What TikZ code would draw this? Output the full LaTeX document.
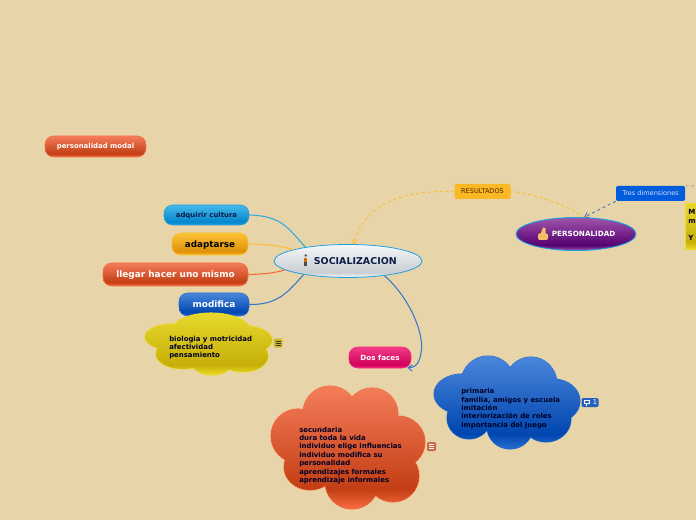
\documentclass[tikz,border=0pt]{standalone}
\usepackage{fontspec}
\setmainfont{DejaVu Sans}
\usetikzlibrary{
  arrows.meta,      % barbed arrow tips
  shapes.geometric  % ellipse nodes
}
\definecolor{papertan}{RGB}{231,212,168}
\definecolor{inknavy}{RGB}{12,28,70}
\definecolor{lineblue}{RGB}{58,120,205}
\definecolor{linesky}{RGB}{50,170,225}
\definecolor{lineamber}{RGB}{250,190,50}
\definecolor{lineorange}{RGB}{245,105,60}
\definecolor{skyrim}{RGB}{30,160,225}
\definecolor{amberrim}{RGB}{250,190,40}
\definecolor{orangerim}{RGB}{248,110,65}
\definecolor{bluerim}{RGB}{40,110,210}
\definecolor{pinkrim}{RGB}{245,40,125}
\definecolor{yellowrim}{RGB}{238,220,40}
\definecolor{thumbtan}{RGB}{245,190,100}
% top colour, bottom colour, rim under the bottom colour
\newcommand{\newgloss}[4]{%
  \pgfdeclareverticalshading{#1}{100bp}{%
    color(0bp)=(#4); color(25bp)=(#4); color(33bp)=(#3);
    color(75bp)=(#2); color(100bp)=(#2)}}
\definecolor{skytop}{RGB}{70,185,235}\definecolor{skylow}{RGB}{5,135,205}
\definecolor{ambertop}{RGB}{253,195,55}\definecolor{amberlow}{RGB}{222,145,8}
\definecolor{orangetop}{RGB}{244,125,90}\definecolor{orangelow}{RGB}{195,62,20}
\definecolor{bluetop}{RGB}{75,135,220}\definecolor{bluelow}{RGB}{0,70,175}
\definecolor{pinktop}{RGB}{242,60,135}\definecolor{pinklow}{RGB}{210,0,90}
\definecolor{yellowtop}{RGB}{232,216,44}\definecolor{yellowlow}{RGB}{198,176,8}
\definecolor{purpletop}{RGB}{160,85,170}\definecolor{purplelow}{RGB}{85,0,115}
\definecolor{silvertop}{RGB}{246,248,250}\definecolor{silverlow}{RGB}{200,206,210}
\definecolor{dimblue}{RGB}{0,92,218}
\newgloss{glosssky}{skytop}{skylow}{skyrim}
\newgloss{glossamber}{ambertop}{amberlow}{amberrim}
\newgloss{glossorange}{orangetop}{orangelow}{orangerim}
\newgloss{glossblue}{bluetop}{bluelow}{bluerim}
\newgloss{glosspink}{pinktop}{pinklow}{pinkrim}
\newgloss{glossyellow}{yellowtop}{yellowlow}{yellowrim}
\newgloss{glosspurple}{purpletop}{purplelow}{purpletop}
\newgloss{glosssilver}{silvertop}{silverlow}{silvertop}
\newcommand{\yellowlobes}{(211,333) ellipse (41 and 20) (172,337) ellipse (27 and 13)
  (245,340) ellipse (27 and 14) (183,354) ellipse (27 and 15)
  (212,358) ellipse (23 and 17) (243,356) ellipse (25 and 16) (210,345) ellipse (50 and 20)}
\newcommand{\bluelobes}{(488,383) ellipse (27 and 27) (531,384) ellipse (26 and 27)
  (462,394) ellipse (28 and 20) (553,401) ellipse (27 and 22)
  (469,418) ellipse (22 and 21) (510,427) ellipse (23 and 22)
  (546,419) ellipse (25 and 23) (508,403) ellipse (50 and 30)}
\newcommand{\orangelobes}{(330,413) ellipse (27 and 27) (372,414) ellipse (26 and 26)
  (298,436) ellipse (27 and 27) (398,442) ellipse (27 and 26)
  (310,467) ellipse (26 and 23) (352,482) ellipse (27 and 27)
  (393,476) ellipse (26 and 26) (350,445) ellipse (50 and 40)}
\newcommand{\pxunit}{0.75pt}
\tikzset{
  pill/.style={
    rounded corners=6.5pt,
    shade,
    inner sep=0pt,
    text height=#1*0.85pt,
    text depth=#1*0.15pt,
    font=\bfseries\fontsize{#1}{#1}\selectfont
  },
  pill/.default=6,
  tagbox/.style={
    rounded corners=1pt,
    inner sep=0pt,
    font=\fontsize{4.9}{6}\selectfont
  },
  cloud text/.style={
    anchor=north west,
    inner sep=0pt,
    align=left,
    text=black!85!blue,
    font=\bfseries\fontsize{5.2}{6.35}\selectfont
  },
  link/.style={line width=0.8pt},
  dashed link/.style={line width=0.7pt, dash pattern=on 2.2pt off 2.2pt},
  notebox/.style={
    rounded corners=1pt,
    inner sep=0pt,
    minimum width=9*\pxunit,
    minimum height=9*\pxunit
  }
}
\begin{document}
\begin{tikzpicture}[x=0.75pt, y=-0.75pt, >={Straight Barb[length=3pt,width=4.5pt]}]
  \useasboundingbox[fill=papertan] (0,0) rectangle (696,520);

  % nodos principales
  \node[ellipse, shade, shading=glosssilver, draw=skyrim, line width=0.6pt, inner sep=0pt,
    minimum width=148*\pxunit, minimum height=33*\pxunit, text=inknavy,
    font=\bfseries\fontsize{7.1}{8}\selectfont] (socializacion) at (348,261) {\hspace{11pt}SOCIALIZACION};
  \node[ellipse, shade, shading=glosspurple, draw=skyrim, line width=0.7pt, inner sep=0pt,
    minimum width=120*\pxunit, minimum height=33*\pxunit, text=white,
    font=\bfseries\fontsize{5.4}{7}\selectfont] (personalidad) at (576,234) {\hspace{11.5pt}PERSONALIDAD};

  % ramas de la izquierda
  \node[pill=5.2, shading=glossorange, draw=orangerim, text=white,
    minimum width=101*\pxunit, minimum height=21*\pxunit] (modal) at (95.5,146.5) {personalidad modal};
  \node[pill=5.2, shading=glosssky, draw=skyrim, text=inknavy,
    minimum width=85*\pxunit, minimum height=20*\pxunit] (adquirir) at (206.5,215) {adquirir cultura};
  \node[pill=6.6, shading=glossamber, draw=amberrim, text=black,
    minimum width=76*\pxunit, minimum height=22*\pxunit] (adaptarse) at (210,244) {adaptarse};
  \node[pill=6.7, shading=glossorange, draw=orangerim, text=white,
    minimum width=145*\pxunit, minimum height=23*\pxunit] (llegar) at (175.5,274.5) {llegar hacer uno mismo};
  \node[pill=6.7, shading=glossblue, draw=bluerim, text=white,
    minimum width=70*\pxunit, minimum height=23*\pxunit] (modifica) at (214,304.5) {modifica};
  \node[pill=5.4, shading=glosspink, draw=pinkrim, text=white,
    minimum width=62*\pxunit, minimum height=21*\pxunit] (dosfaces) at (380,357.5) {Dos faces};

  % etiquetas
  \node[tagbox, fill=amberrim!90!orange, text=black!70!orange,
    minimum width=56*\pxunit, minimum height=15*\pxunit] (resultados) at (482.5,191.5) {RESULTADOS};
  \node[tagbox, fill=dimblue, text=white!85!blue,
    minimum width=69*\pxunit, minimum height=15*\pxunit] (dimensiones) at (650.5,193.5) {Tres dimensiones};
  \coordinate (dimfuera) at (696,186);

  % conectores
  \draw[link, linesky] (adquirir.east) .. controls (282,216) and (288,228) .. (socializacion.162);
  \draw[link, lineamber] (adaptarse.east) .. controls (265,244) and (275,245) .. (socializacion.168);
  \draw[link, lineorange] (llegar.east) .. controls (265,274) and (275,273) .. (socializacion.188);
  \draw[link, lineblue] (modifica.east) .. controls (278,305) and (288,292) .. (socializacion.197);
  \draw[link, lineblue, ->] (socializacion.-22) .. controls (410,298) and (425,335) .. (421,353)
    .. controls (419,366) and (413,368) .. ([xshift=-3pt,yshift=0.6pt]dosfaces.south east);
  \draw[dashed link, lineamber, ->] (resultados.west) .. controls (400,190) and (365,205) .. (socializacion.72);
  \draw[dashed link, lineamber] (resultados.east) .. controls (535,194) and (565,204) .. (personalidad.64);
  \draw[dashed link, lineblue!70!gray, ->] (dimensiones.south west) -- (personalidad.64);
  \draw[dashed link, gray!70] (dimensiones.north east) -- (dimfuera);

  % iconos de los nodos
  \fill[thumbtan, rounded corners=1pt] (538,233.5) rectangle (548,240);
  \fill[thumbtan] (540.5,234) -- (543,227.5) -- (545.5,228) -- (545.5,234) -- cycle;
  \fill[black!65] (305.7,255.5) circle (1.4);
  \fill[orange!85!black] (304,258) rectangle (307.4,262);
  \fill[black!70] (304.4,262) rectangle (307,266.5);

  % caja amarilla cortada por el borde
  \node[rectangle, shade, shading=glossyellow, draw=yellowrim, inner sep=0pt, minimum width=30*\pxunit,
    minimum height=46*\pxunit, anchor=north west] (caja) at (685,203) {};
  \node[anchor=north west, inner sep=0pt, align=left, text=black!85!blue,
    font=\bfseries\fontsize{5.3}{6.35}\selectfont] (cajatexto) at (688,209.5) {M\\m\\[6.35pt]Y};

  % nubes
  \begin{scope}[line width=0.8pt]
    \draw[yellowrim, fill=yellowrim] \yellowlobes;
    \shade[shading=glossyellow] \yellowlobes;
    \draw[bluerim, fill=bluerim] \bluelobes;
    \shade[shading=glossblue] \bluelobes;
    \draw[orangerim, fill=orangerim] \orangelobes;
    \shade[shading=glossorange] \orangelobes;
  \end{scope}
  \node[cloud text] (biologia) at (169,335.5) {biologia y motricidad\\afectividad\\pensamiento};
  \node[cloud text] (primaria) at (461,388) {primaria\\familia, amigos y escuela\\imitación\\interiorización de roles\\importancia del juego};
  \node[cloud text] (secundaria) at (299,426.5) {secundaria\\dura toda la vida\\individuo elige influencias\\individuo modifica su\\personalidad\\aprendizajes formales\\aprendizaje informales};

  % notas junto a las nubes
  \node[notebox, fill=yellowlow!90!white] (notaamarilla) at (278,343) {};
  \node[notebox, fill=orangelow!80!white] (notanaranja) at (431.5,446.5) {};
  \foreach \y in {-2,0,2} {
    \draw[black!80, line width=0.5pt] (275.5,343+\y) -- (280.5,343+\y);
    \draw[white, line width=0.5pt] (429,446.5+\y) -- (434,446.5+\y);
  }
  \node[notebox, fill=bluelow!85!white, minimum width=17*\pxunit, text=white, font=\fontsize{5}{5}\selectfont,
    text width=14*\pxunit, align=right] (notaazul) at (590,402.5) {1};
  \draw[white, line width=0.6pt] (584,400) rectangle (589.5,403.5);
  \draw[white, line width=0.6pt] (586.7,403.5) -- (586.7,405.5);
\end{tikzpicture}
\end{document}
